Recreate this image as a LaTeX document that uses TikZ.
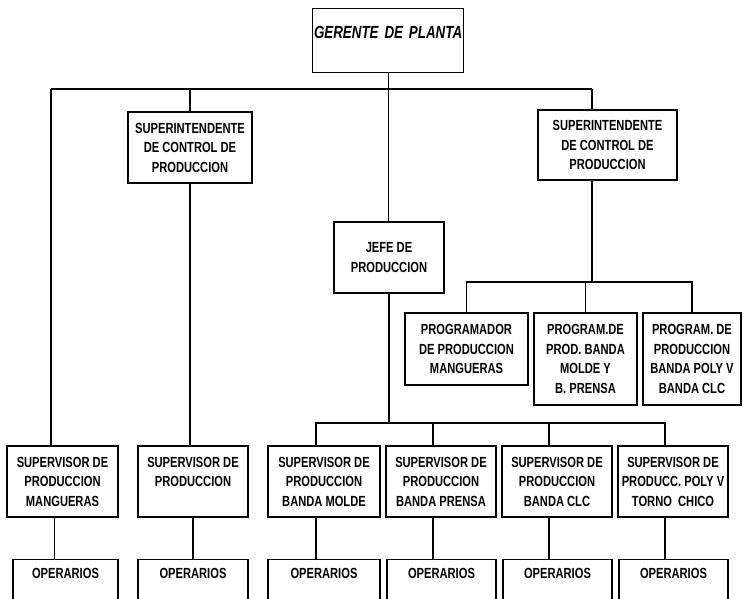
\documentclass[tikz,border=0pt]{standalone}
\usepackage{fontspec}
\setmainfont{Liberation Sans}[FakeStretch=0.76]

\begin{document}
\begin{tikzpicture}[x=0.75pt,y=-0.75pt,line width=1pt]
\tikzset{
  caja/.style={draw,align=center,inner sep=0pt,font=\fontsize{11}{14.6}\selectfont\bfseries},
  oper/.style={caja,anchor=north,text height=14.25pt,text depth=40pt},
  jefe/.style={draw,align=left,inner sep=0pt,anchor=north west,
    font=\fontsize{13.2}{16}\selectfont\bfseries\itshape}
}
\useasboundingbox (0,0) rectangle (744,599);
\newcommand\puesto[6]{
  \node[caja,minimum width={(#4-#2)*0.75pt},minimum height={(#5-#3)*0.75pt}]
    (#1) at ({(#2+#4)/2},{(#3+#5)/2}) {#6};
}
\newcommand\operarios[3]{
  \node[oper,minimum width={(#3-#2)*0.75pt}] (#1) at ({(#2+#3)/2},559) {OPERARIOS};
}
% cabeza
\node[jefe,text width=113.25pt,text height=22.5pt,text depth=25.5pt] (ger) at (312,8)
  {\hspace{1pt}\mbox{GERENTE DE PLANTA}};
\puesto{sup1}{128}{112}{252}{183}{SUPERINTENDENTE\\DE CONTROL DE\\PRODUCCION}
\puesto{sup2}{538}{110}{677}{180}{SUPERINTENDENTE\\DE CONTROL DE\\PRODUCCION}
\puesto{jefe}{334}{222}{444}{293}{JEFE DE\\PRODUCCION}
% programadores
\puesto{prog1}{405}{313}{528}{385}{PROGRAMADOR\\DE PRODUCCION\\MANGUERAS}
\puesto{prog2}{534}{313}{637}{405}{PROGRAM.DE\\PROD. BANDA\\MOLDE Y\\B. PRENSA}
\puesto{prog3}{643}{313}{741}{405}{PROGRAM. DE\\PRODUCCION\\BANDA POLY V\\BANDA CLC}
% supervisores
\puesto{smang}{7}{446}{118}{517}{SUPERVISOR DE\\PRODUCCION\\MANGUERAS}
\puesto{sprod}{138}{446}{248}{517}{SUPERVISOR DE\\PRODUCCION\\~}
\puesto{smol}{268}{446}{380}{517}{SUPERVISOR DE\\PRODUCCION\\BANDA MOLDE}
\puesto{spre}{386}{446}{496}{517}{SUPERVISOR DE\\PRODUCCION\\BANDA PRENSA}
\puesto{sclc}{502}{446}{612}{517}{SUPERVISOR DE\\PRODUCCION\\BANDA CLC}
\puesto{spol}{618}{446}{728}{517}{SUPERVISOR DE\\PRODUCC. POLY V\\TORNO\ \ CHICO}
% operarios
\operarios{omang}{13}{118}
\operarios{oprod}{138}{248}
\operarios{omol}{268}{380}
\operarios{opre}{387}{496}
\operarios{oclc}{503}{612}
\operarios{opol}{619}{728}

% lineas
\coordinate (tl) at (51,89);
\coordinate (tr) at (592,89);
\draw (tl) -- (tr);
\draw (ger.south) -- (ger.south |- jefe.north);
\draw (tl) -- (tl |- smang.north);
\draw (sup1.north) -- (sup1.north |- tl);
\draw (tr) -- (tr |- sup2.north);
\draw (sup1.south) -- (sup1.south |- sprod.north);

\coordinate (pb) at (tr |- 0,282);
\draw (tr |- sup2.south) -- (pb);
\draw (prog1.north) |- (pb) -| (prog3.north);
\draw (prog2.north) -- (prog2.north |- pb);

\coordinate (jb) at (jefe.south |- 0,423);
\draw (jefe.south) -- (jb);
\draw ([xshift=-6pt]smol.north) |- (jb) -| ([xshift=-6pt]spol.north);
\foreach \s in {spre,sclc}
  \draw ([xshift=-6pt]\s.north) -- ([xshift=-6pt]\s.north |- jb);

\foreach \s/\o in {smang/omang,smol/omol,spre/opre,sclc/oclc,spol/opol}
  \draw ([xshift=-6pt]\s.south) -- ([xshift=-6pt]\s.south |- \o.north);
\draw (sprod.south) -- (sprod.south |- oprod.north);
\end{tikzpicture}
\end{document}
